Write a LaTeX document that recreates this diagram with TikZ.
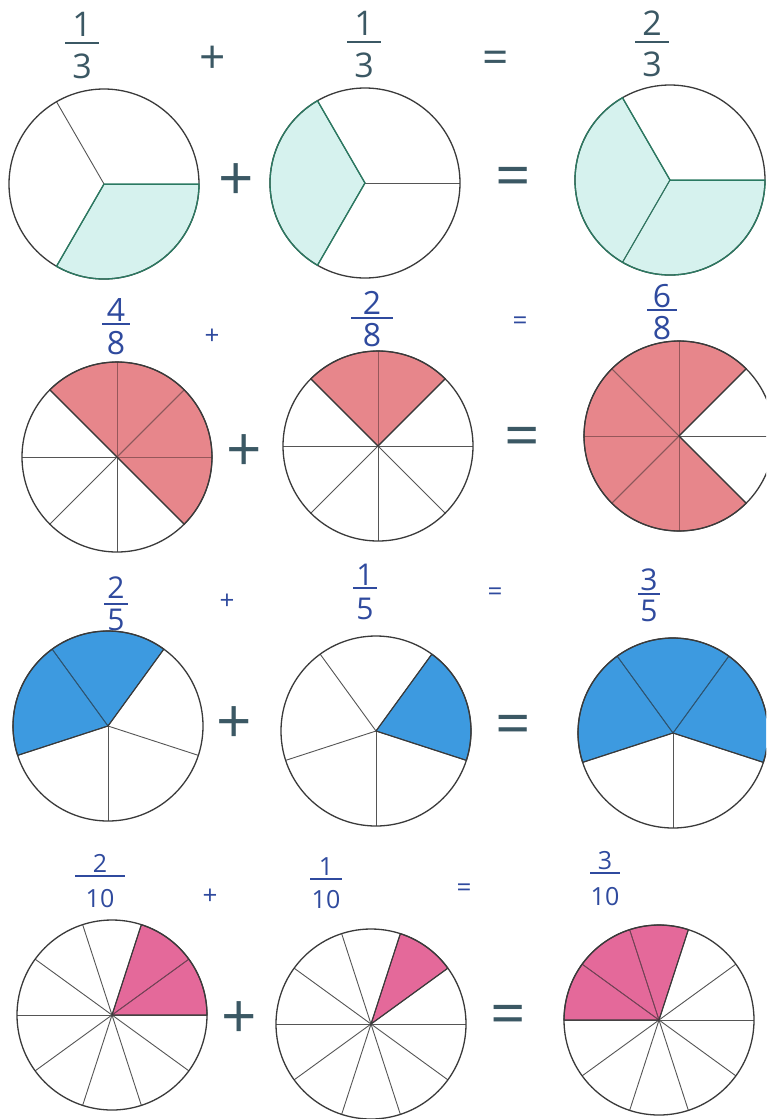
\documentclass[tikz,border=0pt]{standalone}
\usepackage{fontspec}
\setmainfont{Open Sans}
\definecolor{slate}{HTML}{3B5864}
\definecolor{inkblue}{HTML}{2F4A9E}
\definecolor{rimc}{HTML}{3A3A3A}
\definecolor{spokec}{HTML}{555555}
\definecolor{tealc}{HTML}{D6F2EE}
\definecolor{greenc}{HTML}{2B7A62}
\definecolor{salmonc}{HTML}{E7868B}
\definecolor{bluec}{HTML}{3D9AE0}
\definecolor{pinkc}{HTML}{E4699A}
\def\pieR{95}
\tikzset{
  disc/.style={circle, minimum size=190pt, inner sep=0pt},
  rim/.style={draw=rimc, line width=1.3pt},
  spoke/.style={draw=spokec, line width=0.9pt},
  tlfill/.style={fill=tealc}, tlin/.style={draw=greenc, line width=1pt}, tledge/.style={draw=greenc, line width=1.3pt},
  rdfill/.style={fill=salmonc}, rdin/.style={draw=salmonc!65!black, line width=0.7pt}, rdedge/.style={draw=rimc, line width=1.1pt},
  blfill/.style={fill=bluec}, blin/.style={draw=bluec!55!black, line width=0.8pt}, bledge/.style={draw=rimc, line width=1.1pt},
  pkfill/.style={fill=pinkc}, pkin/.style={draw=pinkc!55!black, line width=0.7pt}, pkedge/.style={draw=rimc, line width=1.1pt},
  onelab/.style={inner sep=0pt, text=slate, font=\fontsize{34}{34}\selectfont},
  onebar/.style={draw=slate, line width=2.4pt},
  twolab/.style={inner sep=0pt, text=inkblue, font=\fontsize{32}{32}\selectfont},
  twobar/.style={draw=inkblue, line width=1.8pt},
  threelab/.style={inner sep=0pt, text=inkblue, font=\fontsize{30}{30}\selectfont},
  threebar/.style={draw=inkblue, line width=1.5pt},
  fourlab/.style={inner sep=0pt, text=inkblue, font=\fontsize{25}{25}\selectfont},
  fourbar/.style={draw=inkblue, line width=1.5pt},
  bigop/.style={inner sep=0pt, text=slate, font=\fontsize{62}{62}\selectfont},
  midop/.style={inner sep=0pt, text=slate, font=\fontsize{46}{46}\selectfont},
  smallop/.style={inner sep=0pt, text=inkblue, font=\fontsize{26}{26}\selectfont},
}
% #1 name, #2 x, #3 y, #4 n, #5 offset, #6 from, #7 to, #8 prefix
\newcommand\mypie[8]{%
  \node[disc] (#1) at (#2,-#3) {};
  \fill[#8fill] (#1.center) -- ++(#6:\pieR) arc[start angle=#6, end angle=#7, radius=\pieR] -- cycle;
  \foreach \k in {1,...,#4}{\draw[spoke] (#1.center) -- ++({#5+360/#4*\k}:\pieR);}
  \begin{scope}
    \clip (#1.center) -- ++(#6:\pieR) arc[start angle=#6, end angle=#7, radius=\pieR] -- cycle;
    \foreach \k in {1,...,#4}{\draw[#8in] (#1.center) -- ++({#5+360/#4*\k}:\pieR);}
  \end{scope}
  \draw[rim] (#1.center) circle[radius=\pieR];
  \draw[#8edge] (#1.center) -- ++(#6:\pieR) arc[start angle=#6, end angle=#7, radius=\pieR] -- cycle;
}
% #1 name, #2 x, #3 num y, #4 bar y, #5 den y, #6 half width, #7 num, #8 den, #9 prefix
\newcommand\myfr[9]{%
  \node[#9lab] (#1n) at (#2,-#3) {#7};
  \node[#9lab] (#1d) at (#2,-#5) {#8};
  \coordinate (#1b) at (#2,-#4);
  \draw[#9bar] ([xshift=-#6pt]#1b) -- ([xshift=#6pt]#1b);
}
\begin{document}
\begin{tikzpicture}[x=1pt,y=1pt]
\useasboundingbox (0,0) rectangle (766,-1119);
\clip (0,0) rectangle (766,-1119);
\fill[white] (0,0) rectangle (766,-1119);

% Row 1: thirds
\myfr{f11}{82}{24}{43}{66}{17}{1}{3}{one}
\node[midop] (s11) at (213,-60) {+};
\myfr{f12}{364}{23}{42}{65}{17}{1}{3}{one}
\node[midop] (s12) at (496,-62) {=};
\myfr{f13}{652}{23}{42}{64}{17}{2}{3}{one}
\mypie{c11}{104}{184}{3}{0}{240}{360}{tl}
\mypie{c12}{365}{183}{3}{0}{120}{240}{tl}
\mypie{c13}{670}{180}{3}{0}{120}{360}{tl}
\node[bigop] (p1) at (236,-182) {+};
\node[bigop] (e1) at (513,-182) {=};

% Row 2: eighths
\myfr{f21}{116}{310}{324}{343}{14}{4}{8}{two}
\node[smallop] (s21) at (212,-337) {+};
\myfr{f22}{372}{303}{318}{335}{21}{2}{8}{two}
\node[smallop] (s22) at (520,-323) {=};
\myfr{f23}{662}{296}{310}{328}{15}{6}{8}{two}
\mypie{c21}{117}{457}{8}{0}{-45}{135}{rd}
\mypie{c22}{378}{446}{8}{0}{45}{135}{rd}
\mypie{c23}{679}{436}{8}{0}{45}{315}{rd}
\node[bigop] (p2) at (244,-453) {+};
\node[bigop] (e2) at (522,-442) {=};

% Row 3: fifths
\myfr{f31}{116}{588}{604}{620}{12}{2}{5}{three}
\node[smallop] (s31) at (227,-602) {+};
\myfr{f32}{365}{575}{588}{609}{12}{1}{5}{three}
\node[smallop] (s32) at (495,-594) {=};
\myfr{f33}{649}{580}{594}{611}{11}{3}{5}{three}
\mypie{c31}{108}{726}{5}{-18}{54}{198}{bl}
\mypie{c32}{376}{731}{5}{-18}{-18}{54}{bl}
\mypie{c33}{673}{733}{5}{-18}{-18}{198}{bl}
\node[bigop] (p3) at (234,-725) {+};
\node[bigop] (e3) at (513,-730) {=};

% Row 4: tenths
\myfr{f41}{100}{863}{876}{899}{25}{2}{10}{four}
\node[smallop] (s41) at (210,-897) {+};
\myfr{f42}{326}{867}{879}{900}{16}{1}{10}{four}
\node[smallop] (s42) at (464,-890) {=};
\myfr{f43}{605}{861}{873}{897}{15}{3}{10}{four}
\mypie{c41}{112}{1015}{10}{0}{0}{72}{pk}
\mypie{c42}{371}{1024}{10}{0}{36}{72}{pk}
\mypie{c43}{659}{1020}{10}{0}{72}{180}{pk}
\node[bigop] (p4) at (239,-1020) {+};
\node[bigop] (e4) at (508,-1020) {=};
\end{tikzpicture}
\end{document}
